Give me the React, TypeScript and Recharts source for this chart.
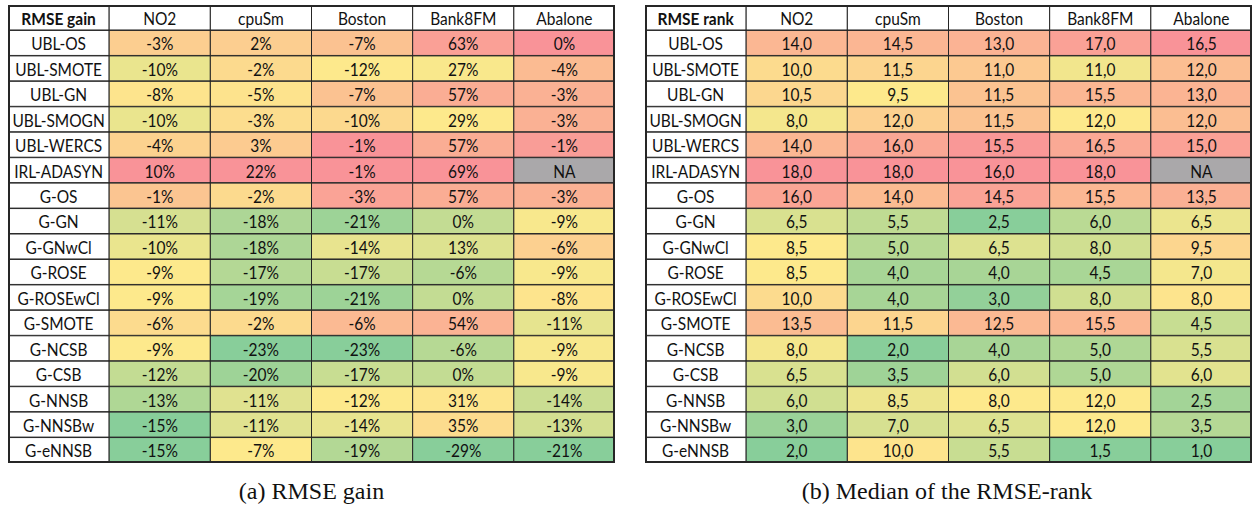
import { BarChart, Bar, XAxis, YAxis } from "recharts";

const METHODS = [
    "UBL-OS", "UBL-SMOTE", "UBL-GN", "UBL-SMOGN", "UBL-WERCS", "IRL-ADASYN", "G-OS",
    "G-GN", "G-GNwCl", "G-ROSE", "G-ROSEwCl", "G-SMOTE", "G-NCSB", "G-CSB",
    "G-NNSB", "G-NNSBw", "G-eNNSB",
];
const DATASETS = ["NO2", "cpuSm", "Boston", "Bank8FM", "Abalone"];

// RMSE gain (%)
const GAIN_NO2 = [-3, -10, -8, -10, -4, 10, -1, -11, -10, -9, -9, -6, -9, -12, -13, -15, -15];
const GAIN_CPUSM = [2, -2, -5, -3, 3, 22, -2, -18, -18, -17, -19, -2, -23, -20, -11, -11, -7];
const GAIN_BOSTON = [-7, -12, -7, -10, -1, -1, -3, -21, -14, -17, -21, -6, -23, -17, -12, -14, -19];
const GAIN_BANK8FM = [63, 27, 57, 29, 57, 69, 57, 0, 13, -6, 0, 54, -6, 0, 31, 35, -29];
const GAIN_ABALONE = [0, -4, -3, -3, -1, null, -3, -9, -6, -9, -8, -11, -9, -9, -14, -13, -21];

// median RMSE rank
const RANK_NO2 = [14, 10, 10.5, 8, 14, 18, 16, 6.5, 8.5, 8.5, 10, 13.5, 8, 6.5, 6, 3, 2];
const RANK_CPUSM = [14.5, 11.5, 9.5, 12, 16, 18, 14, 5.5, 5, 4, 4, 11.5, 2, 3.5, 8.5, 7, 10];
const RANK_BOSTON = [13, 11, 11.5, 11.5, 15.5, 16, 14.5, 2.5, 6.5, 4, 3, 12.5, 4, 6, 8, 6.5, 5.5];
const RANK_BANK8FM = [17, 11, 15.5, 12, 16.5, 18, 15.5, 6, 8, 4.5, 8, 15.5, 5, 5, 12, 12, 1.5];
const RANK_ABALONE = [16.5, 12, 13, 12, 15, null, 13.5, 6.5, 9.5, 7, 8, 4.5, 5.5, 6, 2.5, 3.5, 1];

const GAIN_COLS = [GAIN_NO2, GAIN_CPUSM, GAIN_BOSTON, GAIN_BANK8FM, GAIN_ABALONE];
const RANK_COLS = [RANK_NO2, RANK_CPUSM, RANK_BOSTON, RANK_BANK8FM, RANK_ABALONE];

const RED = [249, 147, 152];
const YELLOW = [253, 233, 140];
const GREEN = [136, 206, 154];
const NA_FILL = "#aaa8aa";
const LINE = "#262626";
const FONT = "Lato, 'Open Sans', sans-serif";

const mix = (a: number[], b: number[], t: number) =>
    `rgb(${a.map((v, i) => Math.round(v + (b[i] - v) * t)).join(",")})`;

// excel-style 3 colour scale, per column (low = green, median = yellow, high = red)
function scaleColor(v: number | null, col: (number | null)[]) {
    if (v === null) return NA_FILL;
    const vals = col.filter((x): x is number => x !== null).sort((a, b) => a - b);
    const n = vals.length;
    const med = n % 2 ? vals[(n - 1) / 2] : (vals[n / 2 - 1] + vals[n / 2]) / 2;
    const lo = vals[0];
    const hi = vals[n - 1];
    if (v >= med) return mix(YELLOW, RED, hi === med ? 0 : (v - med) / (hi - med));
    return mix(YELLOW, GREEN, med === lo ? 0 : (med - v) / (med - lo));
}

const fmtGain = (v: number) => `${v}%`;
const fmtRank = (v: number) => v.toFixed(1).replace(".", ",");

interface TableProps {
    title: string;
    cols: (number | null)[][];
    fmt: (v: number) => string;
}

function HeatTable({ title, cols, fmt }: TableProps) {
    const rows = [title, ...METHODS].map((name, row) => ({
        name, row, c0: 1, c1: 1, c2: 1, c3: 1, c4: 1, c5: 1,
    }));

    const makeCell = (j: number) => (props: any) => {
        const { x, y, width, height, payload } = props;
        const row: number = payload.row;
        let text = "";
        let fill = "#fff";
        let bold = false;
        if (row === 0) {
            text = j === 0 ? title : DATASETS[j - 1];
            bold = j === 0;
        } else if (j === 0) {
            text = METHODS[row - 1];
        } else {
            const v = cols[j - 1][row - 1];
            text = v === null ? "NA" : fmt(v);
            fill = scaleColor(v, cols[j - 1]);
        }
        const cx = x + width / 2;
        const cy = y + height / 2 + 1;
        return (
            <g>
                <rect x={x} y={y} width={width} height={height} fill={fill} stroke={LINE} strokeWidth={1} />
                {/* calibri-like: a bit taller than Lato at the same width */}
                <g transform={`translate(${cx},${cy}) scale(1,1.15)`}>
                    <text
                        x={0}
                        y={0}
                        textAnchor="middle"
                        dominantBaseline="central"
                        fontFamily={FONT}
                        fontSize={15.5}
                        fontWeight={bold ? 700 : 400}
                        fill="#111"
                    >
                        {text}
                    </text>
                </g>
            </g>
        );
    };

    return (
        <BarChart
            width={607}
            height={458}
            data={rows}
            layout="vertical"
            margin={{ top: 0, right: 0, bottom: 0, left: 0 }}
            barCategoryGap={0}
            barGap={0}
        >
            <XAxis type="number" domain={[0, 6]} hide />
            <YAxis type="category" dataKey="name" hide />
            {[0, 1, 2, 3, 4, 5].map((j) => (
                <Bar
                    key={j}
                    dataKey={`c${j}`}
                    stackId="t"
                    isAnimationActive={false}
                    shape={makeCell(j)}
                />
            ))}
        </BarChart>
    );
}

export default function App() {
    const box = (left: number): React.CSSProperties => ({
        position: "absolute", left, top: 5, width: 607, height: 458,
    });
    const frame = (left: number): React.CSSProperties => ({
        ...box(left), boxSizing: "border-box", border: `2px solid ${LINE}`, pointerEvents: "none",
    });
    return (
        <div style={{ position: "fixed", left: 0, top: 0, width: 1254, height: 506, background: "#fff" }}>
            <svg width={1254} height={506} style={{ position: "absolute", left: 0, top: 0 }}>
                <text x={311.5} y={499} textAnchor="middle" fontFamily="'Liberation Serif', serif" fontSize={24} fill="#111">
                    (a) RMSE gain
                </text>
                <text x={947} y={499} textAnchor="middle" fontFamily="'Liberation Serif', serif" fontSize={24} fill="#111">
                    (b) Median of the RMSE-rank
                </text>
            </svg>
            <div style={box(8)}>
                <HeatTable title="RMSE gain" cols={GAIN_COLS} fmt={fmtGain} />
            </div>
            <div style={frame(8)} />
            <div style={box(645)}>
                <HeatTable title="RMSE rank" cols={RANK_COLS} fmt={fmtRank} />
            </div>
            <div style={frame(645)} />
        </div>
    );
}
